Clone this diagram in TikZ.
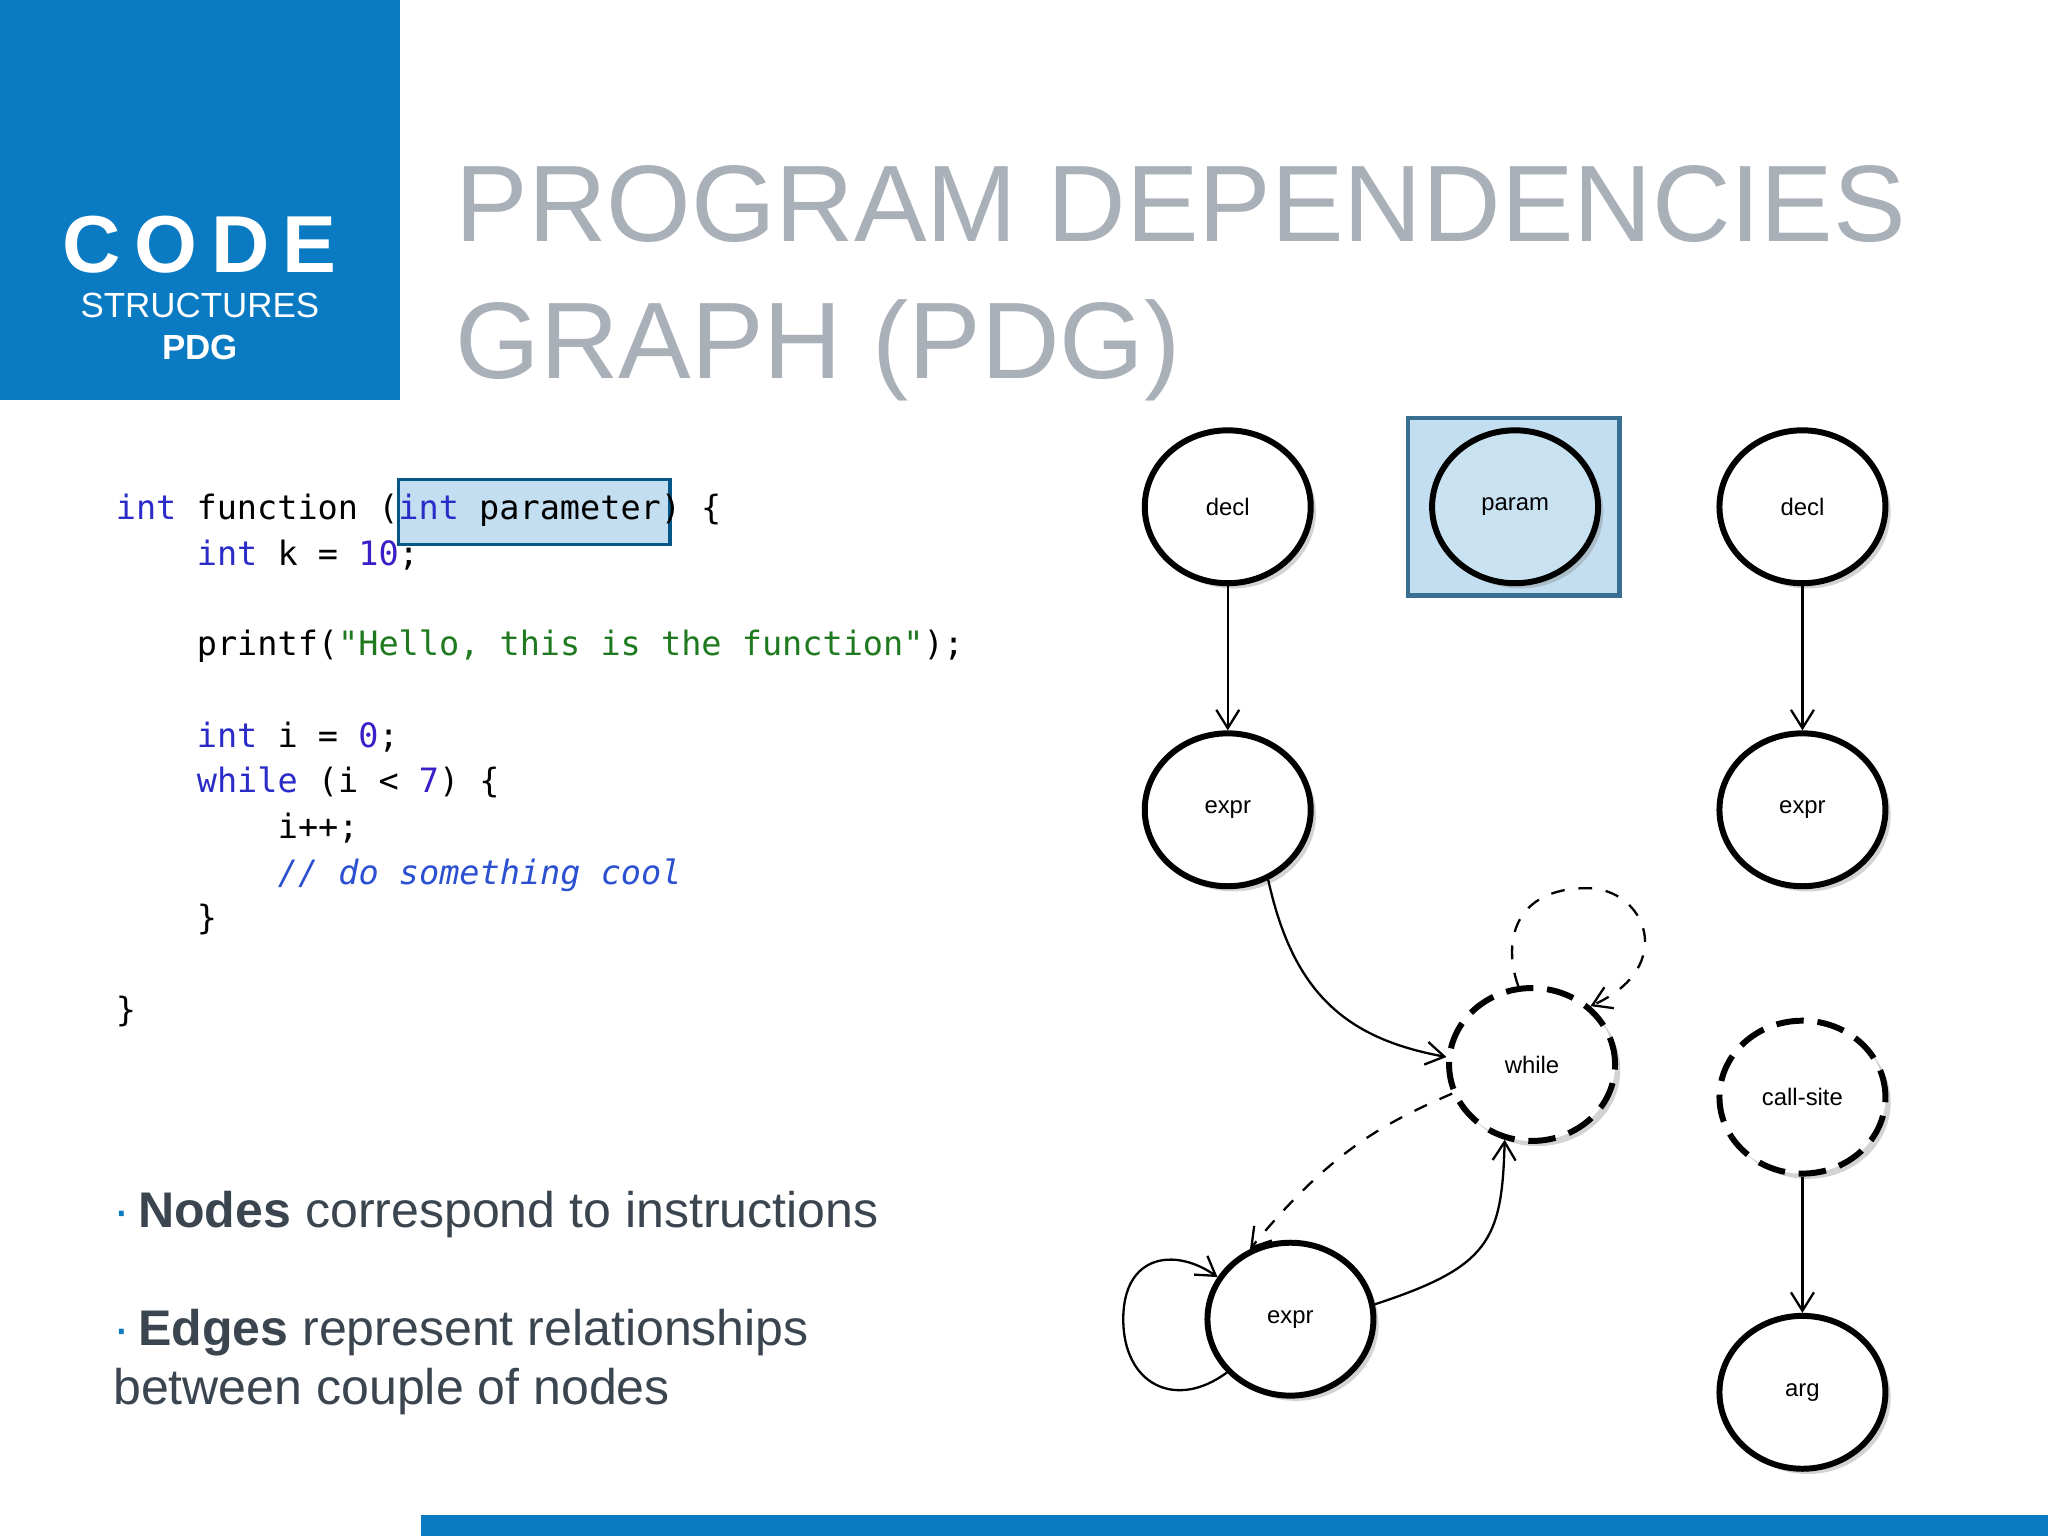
\documentclass[tikz,border=0pt]{standalone}
\usepackage{fontspec}
\setmainfont{Liberation Sans}
\newfontfamily\codefont{DejaVu Sans Mono}
\newfontfamily\thinfont{Liberation Sans}
\usetikzlibrary{arrows.meta,shadows,shapes.geometric}
\definecolor{cblue}{HTML}{0A7BC2}
\definecolor{kw}{HTML}{2B2BC8}
\definecolor{num}{HTML}{3A1FC8}
\definecolor{str}{HTML}{1F7A1F}
\definecolor{cmt}{HTML}{2B50D0}
\definecolor{ttl}{HTML}{A9B0B8}
\definecolor{bul}{HTML}{3A4550}
\tikzset{
 gnode/.style={ellipse,draw,line width=1.3pt,minimum width=1.27cm,minimum height=1.17cm,fill=white,font=\fontsize{5.2}{6}\selectfont,drop shadow={shadow xshift=0.04cm,shadow yshift=-0.04cm,opacity=0.35}},
 dnode/.style={gnode,dashed,dash pattern=on 6pt off 3pt},
 edge/.style={-{Straight Barb[length=4pt,width=5pt]},line width=0.5pt},
 cl/.style={anchor=base west,inner sep=0,font=\codefont\fontsize{7.3}{8}\selectfont}
}
\usepackage{graphicx}
\newcommand{\K}[1]{{\color{kw}#1}}
\newcommand{\N}[1]{{\color{num}#1}}
\begin{document}
\begin{tikzpicture}[x=0.01cm,y=-0.01cm]
\useasboundingbox (0,0) rectangle (1568,1176);
\fill[cblue] (0,0) rectangle (306,306);
\fill[cblue] (322,1160) rectangle (1568,1176);
\node[white,font=\bfseries\fontsize{17.6}{20}\selectfont] (t1) at (153,187) {C\,O\,D\,E};
\node[white,font=\fontsize{7.6}{10}\selectfont] (t2) at (153,234) {STRUCTURES};
\node[white,font=\bfseries\fontsize{7.6}{10}\selectfont] (t3) at (153,266) {PDG};
\node[anchor=base west,inner sep=0,ttl] (h1) at (348,185) {\resizebox{11.1cm}{!}{\thinfont PROGRAM DEPENDENCIES}};
\node[anchor=base west,inner sep=0,ttl] (h2) at (348,290) {\resizebox{5.55cm}{!}{\thinfont GRAPH (PDG)}};
% code
\filldraw[fill=cblue!25,draw=cblue!70!black,line width=0.8pt] (305,367) rectangle (513,417);
\node[cl] (c1) at (88,398) {\K{int} function (\K{int} parameter) \{};
\node[cl] (c2) at (150,433) {\K{int} k = \N{10};};
\node[cl] (c3) at (150,502) {printf({\color{str}"Hello, this is the function"});};
\node[cl] (c4) at (150,572) {\K{int} i = \N{0};};
\node[cl] (c5) at (150,607) {\K{while} (i < \N{7}) \{};
\node[cl] (c6) at (212,642) {i++;};
\node[cl] (c7) at (212,677) {\color{cmt}\itshape // do something cool};
\node[cl] (c8) at (150,712) {\}};
\node[cl] (c9) at (88,782) {\}};
% bullets
\node[anchor=base west,inner sep=0,bul,font=\fontsize{10.9}{14}\selectfont] (b1) at (86,940) {{\color{cblue}·}\,\textbf{Nodes} correspond to instructions};
\node[anchor=base west,inner sep=0,bul,font=\fontsize{10.9}{14}\selectfont] (b2) at (86,1030) {{\color{cblue}·}\,\textbf{Edges} represent relationships};
\node[anchor=base west,inner sep=0,bul,font=\fontsize{10.9}{14}\selectfont] (b3) at (86,1075) {between couple of nodes};
% graph
\filldraw[fill=cblue!25,draw=cblue!60!black!80,line width=1pt] (1078,320) rectangle (1240,456);
\node[gnode] (d1) at (940,388) {decl};
\node[gnode,fill=cblue!22] (p) at (1160,388) {param};
\node[gnode] (d2) at (1380,388) {decl};
\node[gnode] (e1) at (940,620) {expr};
\node[gnode] (e2) at (1380,620) {expr};
\node[dnode] (w) at (1173,815) {while};
\node[dnode] (cs) at (1380,840) {call-site};
\node[gnode] (e3) at (988,1010) {expr};
\node[gnode] (a) at (1380,1066) {arg};
\draw[edge] (d1) -- (e1);
\draw[edge] (d2) -- (e2);
\draw[edge] (cs) -- (a);
\draw[edge] (e1.300) .. controls (990,760) and (1030,795) .. (w.175);
\draw[edge,dashed] (w.100) .. controls (1150,720) and (1160,680) .. (1215,680) .. controls (1260,680) and (1285,740) .. (w.45);
\draw[edge,dashed] (w.200) .. controls (1060,860) and (1020,880) .. (e3.120);
\draw[edge] (e3.10) .. controls (1140,970) and (1150,950) .. (w.250);
\draw[edge] (e3.220) .. controls (900,1080) and (860,1060) .. (860,1010) .. controls (860,960) and (900,955) .. (e3.150);
\end{tikzpicture}
\end{document}
